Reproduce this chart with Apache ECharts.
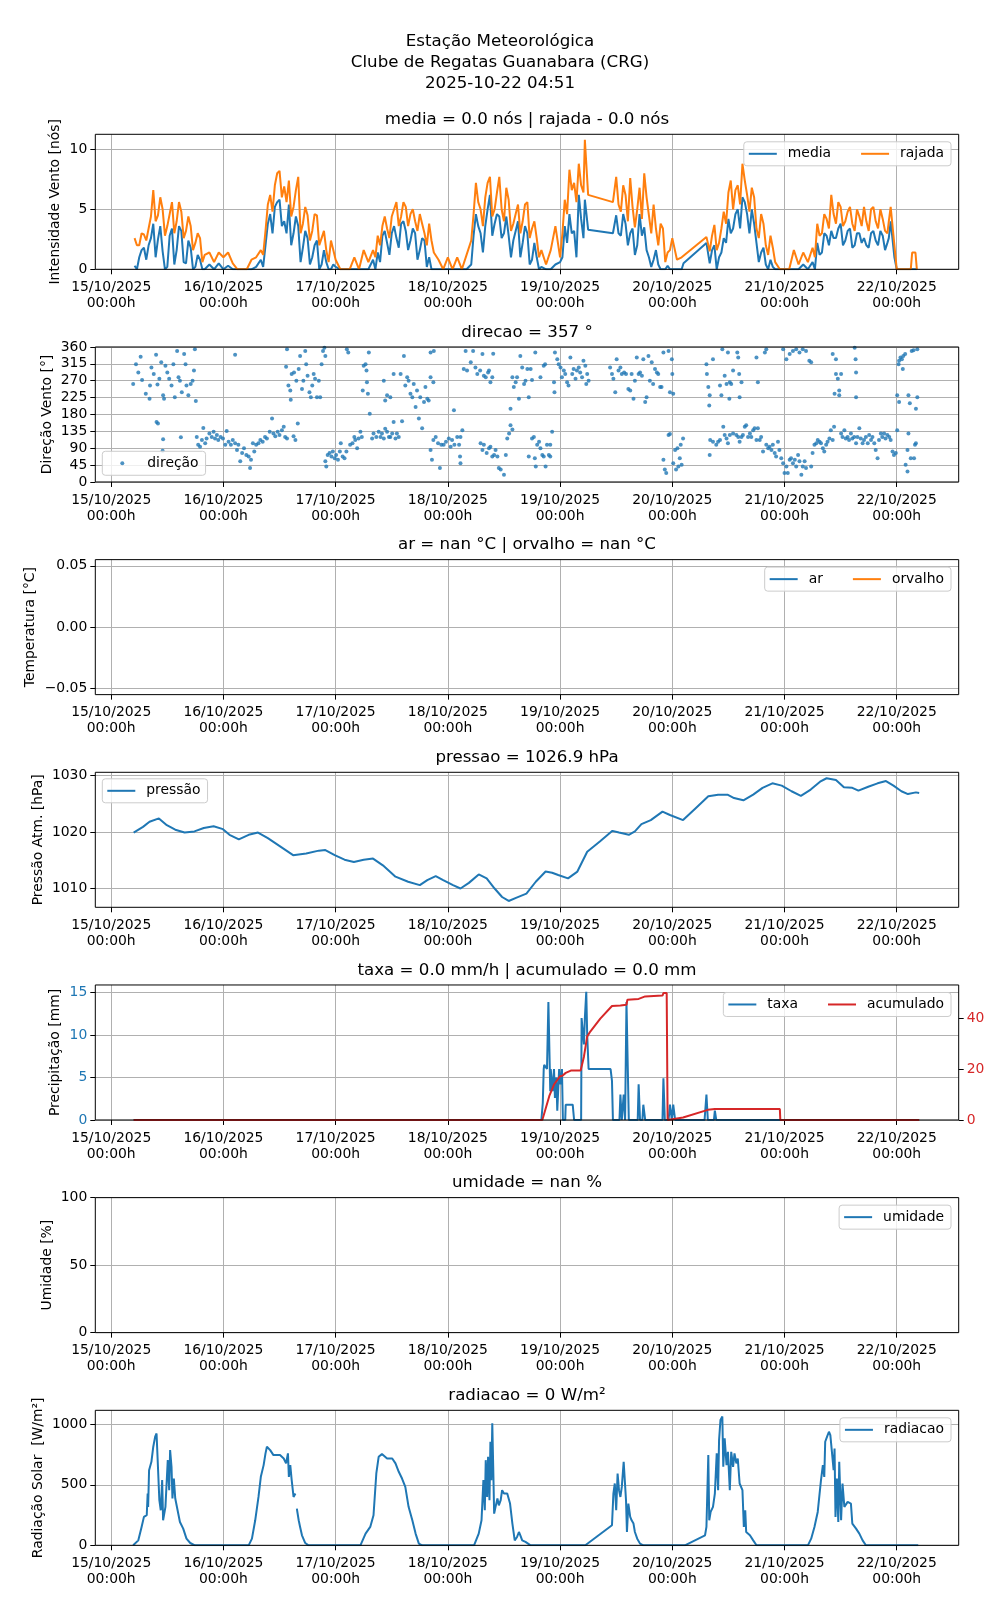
<!DOCTYPE html>
<html><head><meta charset="utf-8">
<script src="https://cdn.jsdelivr.net/npm/echarts@6/dist/echarts.min.js"></script>
<style>html,body{margin:0;padding:0;background:#fff}#c{width:1000px;height:1600px}</style>
</head><body><div id="c"></div>
<script>
// ---------------- DATA (x = hours since 15/10/2025 00:00) ----------------
const dayTicks = [0, 24, 48, 72, 96, 120, 144, 168];
const dayLabels = ['15/10/2025', '16/10/2025', '17/10/2025', '18/10/2025', '19/10/2025', '20/10/2025', '21/10/2025', '22/10/2025'];

const windHours = [5,6,7,8,9,10,11,12,13,14,15,16,17,18,19,20,21,22,23,24,25,26,
  27,28,29,30,31,32,33,34,35,36,37,38,39,40,41,42,43,44,45,46,47,48,
  49,50,51,52,53,54,55,56,57,58,59,60,61,62,63,64,65,66,67,68,69,70,
  71,72,73,74,75,76,77,78,79,80,81,82,83,84,85,86,87,88,89,90,91,92,
  93,94,95,96,97,98,99,100,101,101.3,102,
  107.3,108,109,110,111,112,113,114,115,116,117,118,119,120,121,122,122.4,
  127.3,128,129,130,131,132,133,134,135,136,137,138,139,140,141,142,143,144,145,146,147,148,149,150,
  151,152,153,154,155,156,157,158,159,160,161,162,163,164,165,166,166.7,167.5,168,169,170,171,171.3,172,172.3];
const windRajada = [2.6,2.0,2.9,3.4,6.6,4.5,5.0,3.6,5.6,4.0,4.8,3.2,3.6,2.2,2.6,1.2,1.4,0.6,1.4,1.0,1.4,0.5,
  0,0,0,0.8,1.0,1.6,3.2,6.2,7.0,8.2,6.9,7.4,5.2,7.7,3.8,4.5,3.2,4.5,2.6,1.6,2.4,0.8,
  0,0,0,1.0,0,1.6,0.6,1.6,2.8,3.6,3.4,4.4,5.6,4.4,5.2,4.6,4.0,4.6,3.0,3.8,1.4,0.8,
  0,1.0,0,1.0,0,1.2,2.4,7.2,5.0,6.0,7.7,5.0,7.7,4.0,5.8,3.8,5.4,4.0,5.6,3.4,2.6,1.6,
  0.4,1.6,3.6,1.0,5.8,8.3,7.2,8.8,6.4,10.8,6.2,
  5.6,7.7,4.8,6.2,7.6,3.5,6.8,8.0,4.5,5.4,2.0,3.4,1.4,2.6,0.8,1.0,1.1,
  2.7,1.5,3.7,2.2,4.8,6.4,5.0,7.0,8.8,6.2,6.8,3.4,4.6,2.0,2.8,0.6,0,0,0,1.6,0.4,1.4,0.6,1.8,
  3.8,3.0,4.2,6.2,3.8,5.2,4.0,5.2,3.2,4.4,5.2,3.2,5.2,3.4,4.2,3.0,5.2,2.0,0,0,0,0,1.4,1.4,0];
const windMedia = [0.3,1.0,1.8,2.0,3.8,2.5,1.5,0.2,3.4,1.6,3.2,0.5,1.8,0.2,0.8,0,0.4,0,0.5,0,0.3,0,
  0,0,0,0,0.2,0.8,2.0,4.6,5.2,5.8,4.0,5.4,3.0,3.6,1.8,2.6,1.0,2.4,0.4,0.6,0,0.2,
  0,0,0,0,0,0,0,0.8,1.4,2.8,2.2,3.0,2.6,3.8,3.2,2.4,3.0,1.6,2.4,1.0,0,0,
  0,0,0,0,0,0,0.4,4.6,3.0,3.6,6.2,3.8,4.4,3.0,2.8,2.4,4.0,2.2,3.0,0.8,1.0,0.2,
  0,0,0.4,0.6,3.6,4.6,3.2,6.2,2.6,5.8,3.3,
  3.0,4.5,2.8,3.8,3.0,1.2,4.6,3.5,1.0,0.8,0.4,0,0.3,0,0,0,0.5,
  2.2,0.5,2.0,1.0,2.6,4.2,3.4,5.0,6.0,4.6,5.0,2.2,1.4,0.4,0.8,0,0,0,0,0,0,0.4,0,0.6,
  2.2,1.4,2.8,3.2,2.6,3.8,2.4,3.4,2.0,3.0,2.6,1.8,3.2,2.0,2.8,2.2,4.0,1.0,0,0,0,0,0,0,0];
// extra half-hour readings in the gusty periods
const windHoursExtra = [5.5,6.5,7.5,8.5,9.5,10.5,11.5,12.5,13.5,14.5,15.5,16.5,17.5,18.5,19.5,
  32.5,33.5,34.5,35.5,36.5,37.5,38.5,39.5,40.5,41.5,42.5,43.5,44.5,45.5,46.5,47.5,
  56.5,57.5,58.5,59.5,60.5,61.5,62.5,63.5,64.5,65.5,66.5,67.5,68.5,
  77.5,78.5,79.5,80.5,81.5,82.5,83.5,84.5,85.5,86.5,87.5,88.5,89.5,90.5,91.5,
  96.5,97.5,98.5,99.5,100.5,
  108.5,109.5,110.5,111.5,112.5,113.5,114.5,115.5,116.5,117.5,118.5,119.5,
  128.5,129.5,130.5,131.5,132.5,133.5,134.5,135.5,136.5,137.5,138.5,139.5,140.5,141.5,
  150.5,151.5,152.5,153.5,154.5,155.5,156.5,157.5,158.5,159.5,160.5,161.5,162.5,163.5,164.5,165.5,166.3];
const windRajadaExtra = [2.0,3.0,2.4,4.4,4.0,6.0,2.8,4.6,3.0,5.6,2.6,4.4,1.6,3.0,0.6,
  1.2,5.4,4.8,8.0,6.0,5.6,4.4,6.6,3.0,5.2,2.4,4.6,2.0,3.2,0.6,1.6,
  1.0,2.0,4.4,2.6,5.0,3.6,5.6,3.6,5.0,3.2,3.8,2.0,2.4,
  4.6,5.6,3.6,7.2,4.4,6.4,5.0,6.8,3.2,4.6,3.0,5.4,2.6,4.0,1.0,
  3.0,4.6,6.6,5.6,7.0,
  5.4,7.0,4.0,5.2,5.0,4.2,6.0,3.0,3.4,3.8,0.6,1.6,
  2.8,1.6,3.4,3.8,7.4,6.6,5.4,7.4,4.8,6.0,2.6,3.8,1.2,1.8,
  1.0,2.8,4.6,3.4,4.6,5.6,3.6,4.8,3.8,5.0,3.6,4.0,5.0,4.0,5.0,3.2,4.0];
const windMediaExtra = [0.0,1.6,0.8,2.6,1.0,3.6,0.0,2.8,0.4,3.6,0.6,2.4,0.0,1.2,0.0,
  0.2,3.8,3.0,5.6,3.6,3.0,2.0,4.4,0.6,3.2,0.4,2.0,0.0,1.6,0.0,0.4,
  0.0,0.6,3.2,1.2,3.6,1.8,4.0,1.6,3.4,0.8,2.6,0.2,0.0,
  2.8,3.6,1.4,5.0,2.8,4.6,2.6,4.4,1.0,3.2,1.0,3.6,0.4,2.2,0.0,
  1.0,2.2,3.0,1.0,4.2,
  3.0,4.6,2.0,3.4,2.0,2.8,1.6,0.2,1.6,0.0,0.0,0.0,
  1.6,0.0,1.4,2.2,3.0,4.6,3.4,5.6,3.0,3.8,0.6,1.8,0.0,0.2,
  0.0,1.2,3.0,2.0,2.6,3.4,2.0,3.2,1.8,3.0,2.2,2.0,3.0,2.4,3.2,1.6,2.6];

const direcao = [
[4.7,261],[5.3,314],[5.8,292],[6.3,334],[6.6,272],[7.4,235],[8.2,222],[8.3,257],[8.6,305],[9.1,288],[9.6,339],[9.9,260],[10.3,275],[10.7,319],[11.1,231],[11.3,222],[11.6,310],[12.0,292],[12.4,275],[12.9,257],[13.3,314],[13.6,226],[14.1,349],[14.4,279],[14.7,270],[15.1,239],[15.6,341],[15.9,314],[16.1,257],[16.5,231],[17.0,261],[17.4,270],[17.7,297],[17.9,354],[18.1,216],
[9.7,160],[10.0,156],[11.1,114],[11.0,83],[14.9,119],
[18.3,120],[18.6,99],[19.0,94],[19.4,112],[19.7,144],[20.1,103],[20.4,116],[21.0,129],[21.5,120],[21.9,134],[22.2,116],[22.6,125],[22.9,112],[23.4,120],[23.9,116],[24.4,99],[24.7,136],[25.1,107],[25.6,99],[26.0,112],[26.5,103],[26.9,85],[27.2,99],[27.6,55],[28.0,77],[28.4,90],[28.9,72],[29.4,68],[29.7,37],[29.9,59],[30.3,103],[30.6,81],[31.0,99],[31.5,103],[31.9,112],[32.4,107],[32.9,120],[33.3,116],[33.9,134],[34.4,169],[34.7,129],[35.1,122],[35.6,134],[36.0,125],[36.5,138],[36.9,147],[37.2,120],[37.6,116],
[26.5,339],[39.9,156],[39.0,122],[39.4,112],
[37.6,354],[37.4,307],[37.9,257],[38.3,244],[38.4,219],[38.6,288],[39.1,292],[39.6,270],[40.1,301],[40.4,336],[40.8,248],[41.1,270],[41.5,349],[41.7,314],[42.0,283],[42.4,239],[42.7,226],[43.0,257],[43.3,288],[43.6,275],[44.0,226],[44.4,270],[44.7,226],[45.0,314],[45.3,349],[45.6,358],[45.8,336],
[45.8,55],[46.0,41],[46.3,72],[46.7,77],[47.1,68],[47.4,81],[47.8,63],[48.1,72],[48.5,59],[48.9,81],[49.1,103],[49.5,68],[49.9,63],[50.3,81],[50.4,354],[50.7,345],[51.1,99],[51.6,103],[52.0,120],[52.2,112],[52.6,90],[52.9,116],[53.3,134],[53.6,120],[54.0,310],[54.4,314],[54.6,297],[54.7,266],[53.8,244],[54.9,235],[55.1,345],[55.3,182],[55.8,116],[56.1,129],[56.7,120],[57.2,134],[57.6,120],[57.9,129],[58.3,116],[58.6,142],[59.0,134],[59.4,120],[59.7,120],[60.1,129],[60.4,160],
[58.3,270],[58.6,217],[59.0,231],[59.7,226],[60.4,288],[60.8,116],[61.1,129],[61.5,120],[61.9,288],[62.2,162],[62.6,336],[62.9,257],[63.3,279],[63.6,270],[64.0,235],[64.4,226],[64.7,261],[65.1,200],[65.4,244],[65.8,169],[66.1,226],[66.5,143],[66.9,213],[67.2,253],[67.6,222],[67.9,217],[68.3,279],[68.3,345],[68.9,266],[69.0,349],
[68.3,85],[68.6,59],[68.9,112],[69.4,120],[69.9,103],[70.3,37],[70.6,99],[71.1,99],[71.6,107],[72.2,116],[72.6,94],[72.9,112],[73.3,191],[73.4,99],[74.0,120],[74.4,99],[74.6,68],[74.7,120],[75.1,138],[74.7,50],
[75.4,301],[75.8,349],[76.1,297],[76.9,319],[77.4,349],[77.9,305],[78.3,288],[78.9,297],[79.4,341],[79.7,283],[80.1,279],[80.6,292],[80.8,297],[81.1,266],[81.5,279],[81.7,342],
[79.0,103],[79.4,85],[79.7,99],[80.3,77],[80.8,90],[81.1,94],[81.5,68],[81.9,72],[82.2,85],[82.6,68],[82.9,37],
[83.3,33],[84.0,19],[84.4,72],[84.7,116],[85.1,129],[85.4,151],[85.8,140],[85.4,195],
[85.8,279],[86.1,253],[86.5,266],[86.8,279],[87.2,222],[87.5,336],[87.9,305],[88.3,261],[88.6,270],[89.0,301],[89.3,226],[89.7,301],[90.0,272],[90.7,345],[91.8,279],[92.5,310],[92.8,314],
[89.3,68],[90.0,116],[90.4,120],[90.6,63],[90.8,41],[91.1,99],[91.5,107],[91.8,90],[92.2,72],[92.5,68],[92.9,41],[93.2,99],[93.6,72],[93.9,99],[94.3,134],[93.9,68],
[94.7,266],[94.8,239],[94.9,345],[95.4,327],[95.7,314],[96.1,305],[96.4,279],[96.8,297],[97.1,288],[97.5,266],[97.8,257],[98.2,332],[98.6,288],[98.9,301],[99.3,275],[99.6,297],[100.0,305],[100.3,292],[100.7,279],[101.0,323],[101.4,310],[101.8,288],[102.1,270],[101.6,261],
[106.7,305],[107.1,288],[107.4,275],[107.8,239],[108.1,327],[108.5,297],[108.9,305],[109.2,288],[109.7,292],[110.1,288],[110.6,248],[111.0,244],[111.3,288],[111.7,222],[112.0,270],[112.4,332],[112.8,288],[113.1,292],[113.5,283],[113.8,327],[114.2,213],[114.5,226],[114.9,336],[115.2,270],[115.6,319],[115.9,261],[116.3,301],[116.7,292],[117.0,288],[117.4,253],[117.7,253],[118.1,345],[119.2,349],[119.5,239],[119.9,327],[120.0,288],[120.2,235],
[118.1,59],[118.4,33],[118.7,24],[119.2,125],[119.5,128],[120.2,50],[120.6,85],[120.8,33],[121.1,90],[121.3,41],[121.6,63],[121.8,99],[122.0,46],[122.3,116],
[127.3,314],[127.4,288],[127.7,253],[128.0,231],[127.9,204],[128.7,327],[130.2,257],[130.5,231],[130.7,354],[131.2,283],[131.6,261],[131.9,345],[132.2,222],[132.3,266],[132.6,261],[133.0,297],[133.9,345],[134.1,332],[134.3,288],[134.4,226],[134.8,266],[138.3,266],[138.0,332],[139.8,345],[140.1,354],
[128.0,72],[128.1,112],[128.7,107],[129.4,99],[129.8,107],[130.2,112],[130.9,147],[131.2,125],[131.6,116],[131.9,103],[132.3,125],[133.0,129],[133.7,125],[134.1,120],[134.4,107],[134.8,120],[135.1,125],[135.5,147],[135.8,151],[136.2,120],[136.6,129],[136.9,120],[137.3,138],[137.6,143],[138.0,112],[138.3,143],[138.7,112],[139.0,120],[139.4,81],[140.1,99],[140.5,90],[140.8,94],[141.2,85],[141.5,99],[141.9,77],[142.2,68],[142.6,107],[142.9,85],[143.3,63],[143.7,50],[144.0,24],[144.4,41],[144.7,24],[145.1,59],[145.4,63],[145.8,50],[146.2,59],[146.5,41],[146.9,72],[147.2,55],[147.6,19],[147.9,41],[148.3,55],[148.6,37],[149.7,41],[150.0,77],[150.4,99],[150.8,103],[151.1,112],[151.5,107],[151.8,103],[152.2,90],[152.5,81],[152.9,99],[153.2,107],[153.6,116],[153.9,138],[154.3,112],[154.6,147],
[143.7,354],[144.4,327],[145.1,341],[145.8,349],[146.5,354],[147.2,345],[147.9,354],[148.6,349],[149.3,323],[149.7,319],[154.3,341],[155.0,327],
[154.7,235],[155.0,288],[155.4,275],[155.7,244],[155.7,231],[156.1,288],[159.0,358],[159.2,327],[159.3,292],[159.3,226],
[156.1,129],[156.4,120],[156.8,138],[157.1,116],[157.5,120],[157.8,112],[158.2,129],[158.5,116],[158.9,120],[159.3,103],[159.6,120],[160.0,143],[160.3,116],[160.7,103],[161.0,112],[161.4,120],[161.8,103],[162.1,125],[162.5,112],[162.8,120],[163.2,103],[163.5,85],[163.9,63],[164.2,112],[164.6,129],[164.9,120],[165.3,129],[165.6,116],[166.0,125],[166.4,120],[166.7,112],[167.1,81],[167.4,72],[167.8,77],[168.1,138],[169.9,46],[170.3,28],[170.3,85],[170.5,129],[171.0,63],[171.7,63],[171.9,99],[172.1,103],
[168.1,231],[168.5,213],[168.4,314],[168.5,323],[168.8,332],[169.1,327],[169.3,301],[169.4,336],[169.8,341],[170.5,231],[170.8,210],[171.2,349],[171.6,351],[172.1,195],[172.4,226],[172.4,354]
];

const pressao = [[4.8,1019.9],[6.8,1020.9],[8.2,1021.8],[10.2,1022.4],[11.9,1021.2],[13.7,1020.4],[15.7,1019.9],[17.8,1020.1],[19.8,1020.7],[21.9,1021.0],[23.9,1020.5],[25.3,1019.5],[27.3,1018.7],[29.4,1019.5],[31.4,1019.9],[33.5,1018.9],[36.2,1017.4],[38.9,1015.9],[41.7,1016.2],[44.4,1016.7],[45.8,1016.8],[47.8,1015.9],[49.9,1015.1],[51.9,1014.7],[54,1015.1],[56,1015.3],[58.1,1014.1],[60.8,1012.1],[63.5,1011.2],[66,1010.6],[67.6,1011.5],[69.4,1012.2],[71,1011.5],[73.1,1010.6],[74.7,1010.0],[76.5,1011.0],[78.6,1012.5],[80.3,1011.8],[82,1010.0],[83.6,1008.5],[85,1007.8],[86.7,1008.4],[88.8,1009.1],[90.8,1011.2],[92.9,1013.0],[94.3,1012.8],[95.6,1012.4],[97.7,1011.8],[99.7,1013.0],[101.8,1016.5],[104.5,1018.3],[107.2,1020.2],[108.6,1019.9],[110.7,1019.5],[112,1020.1],[113.4,1021.4],[115.4,1022.1],[117.9,1023.6],[119.5,1023.0],[122.3,1022.1],[125,1024.2],[127.7,1026.3],[129.8,1026.6],[131.8,1026.6],[133.2,1026.0],[135.2,1025.6],[137.3,1026.6],[139.3,1027.8],[141.4,1028.6],[143.4,1028.2],[145.5,1027.2],[147.5,1026.4],[149.6,1027.5],[151.6,1028.9],[153,1029.5],[155,1029.2],[156.7,1027.9],[158.5,1027.8],[159.8,1027.3],[161.9,1028.0],[163.9,1028.6],[165.7,1029.0],[167.3,1028.2],[169,1027.2],[170.4,1026.7],[172.1,1027.0],[172.8,1026.9]];

const taxa = [[4.8,0],[92.0,0],[92.3,2],[92.5,6],[92.6,6.5],[93.0,6.5],[93.2,6],[93.5,13.9],[93.7,13.9],[93.9,3.4],[94.0,6],[94.4,3.4],[94.7,6],[94.9,2.6],[95.2,5],[95.4,1.1],[95.8,6],[96.1,4.2],[96.4,6],[96.6,0],[97.1,0],[97.2,1.8],[98.7,1.8],[99.0,0],[100.5,0],[100.6,12],[100.9,12],[101.1,8.9],[101.3,12],[101.6,15.1],[101.8,10],[102.1,6],[106.8,6],[107.1,4.6],[107.3,0],[108.7,0],[108.9,3],[109.2,0],[109.6,3],[109.9,0],[110.2,13.9],[110.4,13.9],[110.7,0],[112.6,0],[112.8,4.2],[113.1,0],[113.6,0],[113.8,1.8],[114.2,0],[117.9,0],[118.1,4.9],[118.4,0],[119.2,0],[119.5,1.8],[119.9,0],[120.2,1.8],[120.6,0],[126.9,0],[127.3,3],[127.6,0],[128.9,0],[129.1,1.1],[129.4,0],[172.8,0]];

const acumulado = [[4.8,0],[92.2,0],[93.7,9.5],[94.7,14],[96.0,17.3],[96.5,17.5],[97.2,18.6],[98.3,19.5],[100.4,19.5],[101.1,25],[101.8,33],[102.5,35],[104.6,40],[107.1,45],[108.9,45.2],[110.2,45.5],[110.4,47.5],[112.8,47.8],[114.2,48.8],[117.9,49.1],[118.1,50.1],[118.8,50.1],[119.0,0],[119.2,0.5],[122.3,1],[127.6,4],[129.1,4.3],[143.0,4.3],[143.1,0],[172.8,0]];

const radiacao = [[4.7,0],[5.8,41],[6.5,152],[7,235],[7.6,249],[7.8,428],[7.9,318],[8.1,621],[8.6,690],[9,815],[9.4,898],[9.7,925],[10,939],[10.3,373],[10.6,290],[10.9,539],[11.1,207],[11.3,193],[11.6,318],[12.1,704],[12.4,456],[12.6,787],[12.9,649],[13.1,387],[13.4,552],[13.7,387],[14.1,373],[14.7,193],[15.4,138],[16.1,55],[16.9,19],[17.9,0],[29.4,0],[30.1,55],[30.8,207],[31.5,400],[32,566],[32.6,663],[33,760],[33.3,815],[34,787],[34.7,746],[35.4,746],[36.1,746],[36.9,718],[37.4,677],[37.8,760],[38,566],[38.3,663],[38.6,539],[39,400],[39.4,428],[39.55,'-'],[39.7,304],[40.1,207],[40.4,152],[40.8,83],[41.5,19],[42.2,0],[53.3,0],[54.4,97],[55.4,152],[56.1,249],[56.7,594],[57.2,732],[57.9,754],[59,718],[60.1,718],[60.8,677],[61.5,608],[62.2,552],[62.9,483],[63.6,318],[64.4,207],[65.1,97],[65.8,14],[66.5,0],[77.6,0],[78.6,97],[79.2,207],[79.6,539],[79.9,290],[80.1,704],[80.4,400],[80.6,732],[80.9,373],[81.1,856],[81.3,539],[81.5,1008],[81.7,649],[81.9,262],[82.2,318],[82.6,387],[82.9,331],[83.3,373],[83.6,456],[84,428],[84.4,442],[84.7,428],[85.3,345],[85.8,180],[86.3,41],[86.8,69],[87.2,110],[87.5,83],[87.9,41],[88.6,28],[89.7,0],[101.4,0],[107.1,166],[107.4,428],[107.7,511],[108,290],[108.3,594],[108.6,456],[108.9,400],[109.2,483],[109.6,690],[109.9,677],[110.1,373],[110.3,110],[110.6,345],[111,235],[111.3,207],[111.7,180],[112,110],[112.5,55],[113.1,14],[113.8,0],[122.7,0],[127,83],[127.3,152],[127.7,746],[127.9,207],[128.2,276],[128.7,318],[129.1,428],[129.5,760],[129.8,456],[130,870],[130.3,1036],[130.7,1065],[130.9,649],[131.2,884],[131.6,663],[131.9,773],[132.3,456],[132.6,773],[133,649],[133.3,760],[133.7,677],[134,718],[134.4,511],[135,456],[135.3,152],[135.6,290],[135.8,110],[136.6,83],[137.3,41],[138,0],[149,0],[149.7,55],[150.4,152],[151.1,276],[151.5,428],[151.8,539],[152.2,663],[152.5,566],[152.7,856],[153.1,898],[153.5,939],[153.8,911],[154.1,898],[154.5,621],[154.7,801],[154.9,235],[155.2,552],[155.5,193],[155.7,690],[156.1,207],[156.4,511],[156.8,318],[157.5,359],[158.2,345],[158.5,180],[159.3,138],[160,97],[160.7,41],[161.4,0],[172.6,0]];

const tempTicks = [-0.05, 0, 0.05];

// ---------------- LAYOUT / STYLE ----------------
const FONT = 'DejaVu Sans';
const BLUE = '#1f77b4', ORANGE = '#ff7f0e', RED = '#d62728';
const X_MIN = -3.4, X_MAX = 181.25;
const G_LEFT = 95.3, G_RIGHT = 41.3, G_H = 135, TOP0 = 134.3, STEP = 212.67;
const tops = [0,1,2,3,4,5,6].map(k => TOP0 + k * STEP);
const FS = 13.9;

const zipSorted = (xs, ys, xs2, ys2) => xs.map((x, i) => [x, ys[i]]).concat(xs2.map((x, i) => [x, ys2[i]])).sort((a, b) => a[0] - b[0]);
const fmtDay = v => { const i = dayTicks.indexOf(Math.round(v)); return i >= 0 ? dayLabels[i] + '\n00:00h' : ''; };
const plain = v => String(Math.round(v * 1000) / 1000);

const grids = tops.map(t => ({left: G_LEFT, right: G_RIGHT, top: t, height: G_H, show: true,
  borderColor: '#000', borderWidth: 1, backgroundColor: 'rgba(0,0,0,0)', z: 3}));

const xAxes = tops.map((t, k) => ({
  type: 'value', gridIndex: k, min: X_MIN, max: X_MAX,
  axisLine: {show: false, onZero: false},
  axisTick: {show: true, length: 5, inside: false, customValues: dayTicks, lineStyle: {color: '#000', width: 1}},
  axisLabel: {customValues: dayTicks, formatter: fmtDay, fontSize: FS, color: '#000', lineHeight: 16, margin: 10, fontFamily: FONT},
  splitLine: {show: true, lineStyle: {color: '#b0b0b0', width: 1}}
}));

function yAx(k, min, max, ticks, name, gap, extra) {
  return {
    type: 'value', gridIndex: k, min: min, max: max, position: 'left',
    name: name, nameLocation: 'middle', nameGap: gap, nameRotate: 90, nameMoveOverlap: false,
    nameTextStyle: {fontSize: FS, color: '#000', fontFamily: FONT},
    axisLine: {show: false, onZero: false},
    axisTick: {show: true, length: 5, inside: false, customValues: ticks, lineStyle: {color: '#000', width: 1}},
    axisLabel: {customValues: ticks, fontSize: FS, color: (extra && extra.color) || '#000', margin: 8, fontFamily: FONT,
      formatter: (extra && extra.fmt) || plain},
    splitLine: {show: true, lineStyle: {color: '#b0b0b0', width: 1}}
  };
}

const yAxes = [
  yAx(0, 0, 11.25, [0, 5, 10], 'Intensidade Vento [nós]', 32.8),
  yAx(1, 0, 360, [0, 45, 90, 135, 180, 225, 270, 315, 360], 'Direção Vento [°]', 40.8),
  yAx(2, -0.055, 0.055, tempTicks, 'Temperatura [°C]', 58.2, {fmt: v => (v < -1e-9 ? '\u2212' : '') + Math.abs(v).toFixed(2)}),
  yAx(3, 1006.68, 1030.55, [1010, 1020, 1030], 'Pressão Atm. [hPa]', 50),
  yAx(4, 0, 15.9, [0, 5, 10, 15], 'Precipitação [mm]', 32.5, {color: BLUE}),
  {
    type: 'value', gridIndex: 4, min: 0, max: 53.3, position: 'right',
    axisLine: {show: false, onZero: false},
    axisTick: {show: true, length: 5, inside: false, customValues: [0, 20, 40], lineStyle: {color: '#000', width: 1}},
    axisLabel: {customValues: [0, 20, 40], fontSize: FS, color: RED, margin: 8, fontFamily: FONT, formatter: plain},
    splitLine: {show: false}
  },
  yAx(5, 0, 100, [0, 50, 100], 'Umidade [%]', 40.8),
  yAx(6, 0, 1116, [0, 500, 1000], 'Radiação Solar  [W/m²]', 50)
];

const titleTexts = ['media = 0.0 nós | rajada - 0.0 nós', 'direcao = 357 °', 'ar = nan °C | orvalho = nan °C',
  'pressao = 1026.9 hPa', 'taxa = 0.0 mm/h | acumulado = 0.0 mm', 'umidade = nan %', 'radiacao = 0 W/m²'];
const plotCenter = G_LEFT + (1000 - G_LEFT - G_RIGHT) / 2;
const titles = [{
  text: 'Estação Meteorológica\nClube de Regatas Guanabara (CRG)\n2025-10-22 04:51',
  left: 500, top: 31.5, textAlign: 'center', padding: 0,
  textStyle: {fontSize: 16.67, fontWeight: 'normal', color: '#000', fontFamily: FONT, lineHeight: 20.8}
}].concat(titleTexts.map((t, k) => ({
  text: t, left: plotCenter, top: tops[k] - 24.5, textAlign: 'center', padding: 0,
  textStyle: {fontSize: 16.67, fontWeight: 'normal', color: '#000', fontFamily: FONT, lineHeight: 20}
})));

const legBase = {
  orient: 'horizontal', icon: 'rect', itemWidth: 28, itemHeight: 2, itemGap: 30,
  backgroundColor: 'rgba(255,255,255,0.8)', borderColor: '#cccccc', borderWidth: 1, borderRadius: 3,
  padding: [5, 7, 5, 5], selectedMode: false, z: 10,
  textStyle: {fontFamily: FONT, fontSize: FS, color: '#000', lineHeight: 14, padding: [0, 0, 0, 6]}
};
const legends = [
  Object.assign({}, legBase, {data: ['media', 'rajada'], right: 49, top: tops[0] + 7.5}),
  Object.assign({}, legBase, {data: ['direção'], icon: 'circle', itemWidth: 4, itemHeight: 4, left: 102.3, top: tops[1] + 104.3,
    padding: [5, 7, 5, 18], textStyle: Object.assign({}, legBase.textStyle, {padding: [0, 0, 0, 18]})}),
  Object.assign({}, legBase, {data: ['ar', 'orvalho'], right: 49, top: tops[2] + 7.5}),
  Object.assign({}, legBase, {data: ['pressão'], left: 102.3, top: tops[3] + 6.5}),
  Object.assign({}, legBase, {data: ['taxa', 'acumulado'], right: 49, top: tops[4] + 7.5}),
  Object.assign({}, legBase, {data: ['umidade'], right: 49, top: tops[5] + 7.5}),
  Object.assign({}, legBase, {data: ['radiacao'], right: 49, top: tops[6] + 7.5})
];

function line(name, xi, yi, data, color, z) {
  return {type: 'line', name: name, xAxisIndex: xi, yAxisIndex: yi, data: data, showSymbol: false, symbol: 'none',
    lineStyle: {color: color, width: 2}, itemStyle: {color: color}, connectNulls: false, z: z || 2, silent: true};
}

const series = [
  line('media', 0, 0, zipSorted(windHours, windMedia, windHoursExtra, windMediaExtra), BLUE, 2),
  line('rajada', 0, 0, zipSorted(windHours, windRajada, windHoursExtra, windRajadaExtra), ORANGE, 2.1),
  {type: 'scatter', name: 'direção', xAxisIndex: 1, yAxisIndex: 1, data: direcao, symbol: 'circle', symbolSize: 4,
    itemStyle: {color: BLUE}, z: 2, silent: true},
  line('ar', 2, 2, [], BLUE),
  line('orvalho', 2, 2, [], ORANGE),
  line('pressão', 3, 3, pressao, BLUE),
  line('taxa', 4, 4, taxa, BLUE, 2),
  line('acumulado', 4, 5, acumulado, RED, 2.1),
  line('umidade', 5, 6, [], BLUE),
  line('radiacao', 6, 7, radiacao, BLUE)
];

const chart = echarts.init(document.getElementById('c'), null, {renderer: 'canvas'});
chart.setOption({
  animation: false,
  backgroundColor: '#fff',
  textStyle: {fontFamily: FONT},
  title: titles,
  legend: legends,
  grid: grids,
  xAxis: xAxes,
  yAxis: yAxes,
  series: series
});
</script></body></html>
